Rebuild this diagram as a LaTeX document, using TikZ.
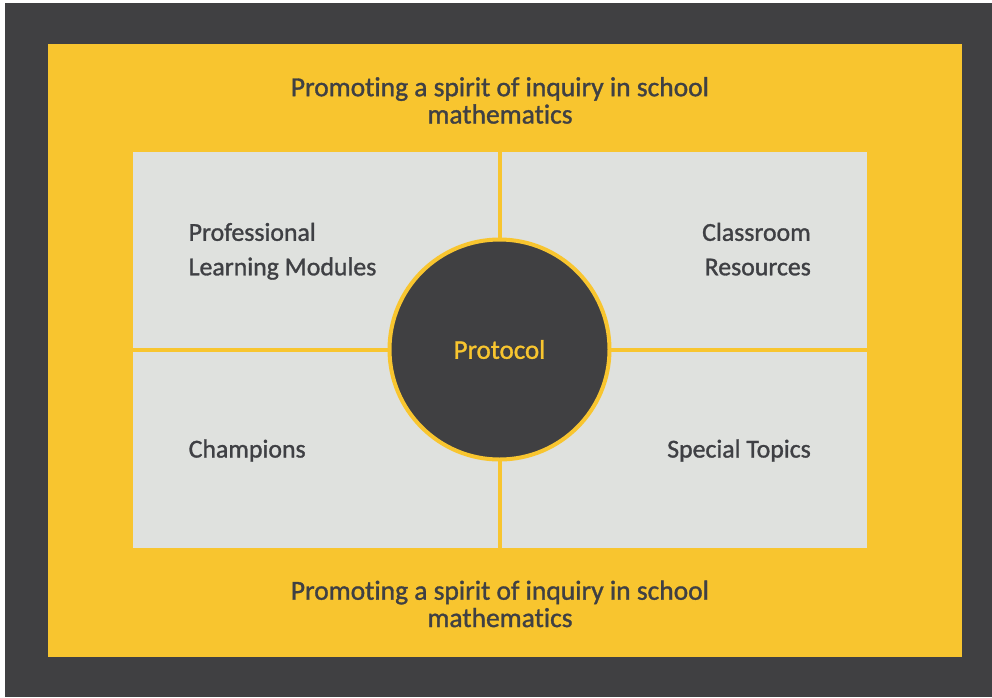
\documentclass[tikz,border=0pt]{standalone}
\usepackage{fontspec}
\setmainfont{Carlito}[FakeBold=1.2, Ligatures=NoCommon]
\newfontfamily\labelfont{Carlito}[FakeBold=1.2, Ligatures=NoCommon]
\definecolor{darkbg}{HTML}{404042}
\definecolor{sun}{HTML}{F8C52F}
\definecolor{panel}{HTML}{DFE1DE}
\definecolor{ink}{HTML}{3F4044}
\tikzset{
  panelbox/.style={fill=panel, draw=none},
  titletext/.style={text=ink, align=center, inner sep=0pt, anchor=base,
     font=\labelfont\fontsize{27.5}{27.3}\selectfont},
  quadtext/.style={text=ink, inner sep=0pt, anchor=base,
     font=\labelfont\fontsize{25.8}{34.5}\selectfont},
  hub/.style={circle, fill=darkbg, draw=sun, line width=4pt, minimum size=220pt,
     inner sep=0pt, text=sun, font=\labelfont\fontsize{27}{30}\selectfont}
}
\begin{document}
\begin{tikzpicture}[x=1pt,y=-1pt]
\useasboundingbox (0,0) rectangle (992,697);
\fill[white] (0,0) rectangle (992,697);
\fill[darkbg] (5,3) rectangle (992,697);
\fill[sun] (48,44) rectangle (962,657);
\fill[panelbox] (132.5,151.5) rectangle (497.5,347.5);
\fill[panelbox] (501.5,151.5) rectangle (867,347.5);
\fill[panelbox] (132.5,351.5) rectangle (497.5,547.5);
\fill[panelbox] (501.5,351.5) rectangle (867,547.5);
\node[hub] (hub) at (499.5,349.5) {Protocol};
\node[titletext] (top) at (500,123.5) {Promoting a spirit of inquiry in school\\mathematics};
\node[titletext] (bottom) at (500,627) {Promoting a spirit of inquiry in school\\mathematics};
\node[quadtext, align=left, anchor=base west] (plm) at (188.5,275.3) {Professional\\Learning Modules};
\node[quadtext, align=right, anchor=base east] (cr) at (811,275.3) {Classroom\\Resources};
\node[quadtext, anchor=base west] (ch) at (188.5,457.5) {Champions};
\node[quadtext, anchor=base east] (st) at (811,457.5) {Special Topics};
\end{tikzpicture}
\end{document}
